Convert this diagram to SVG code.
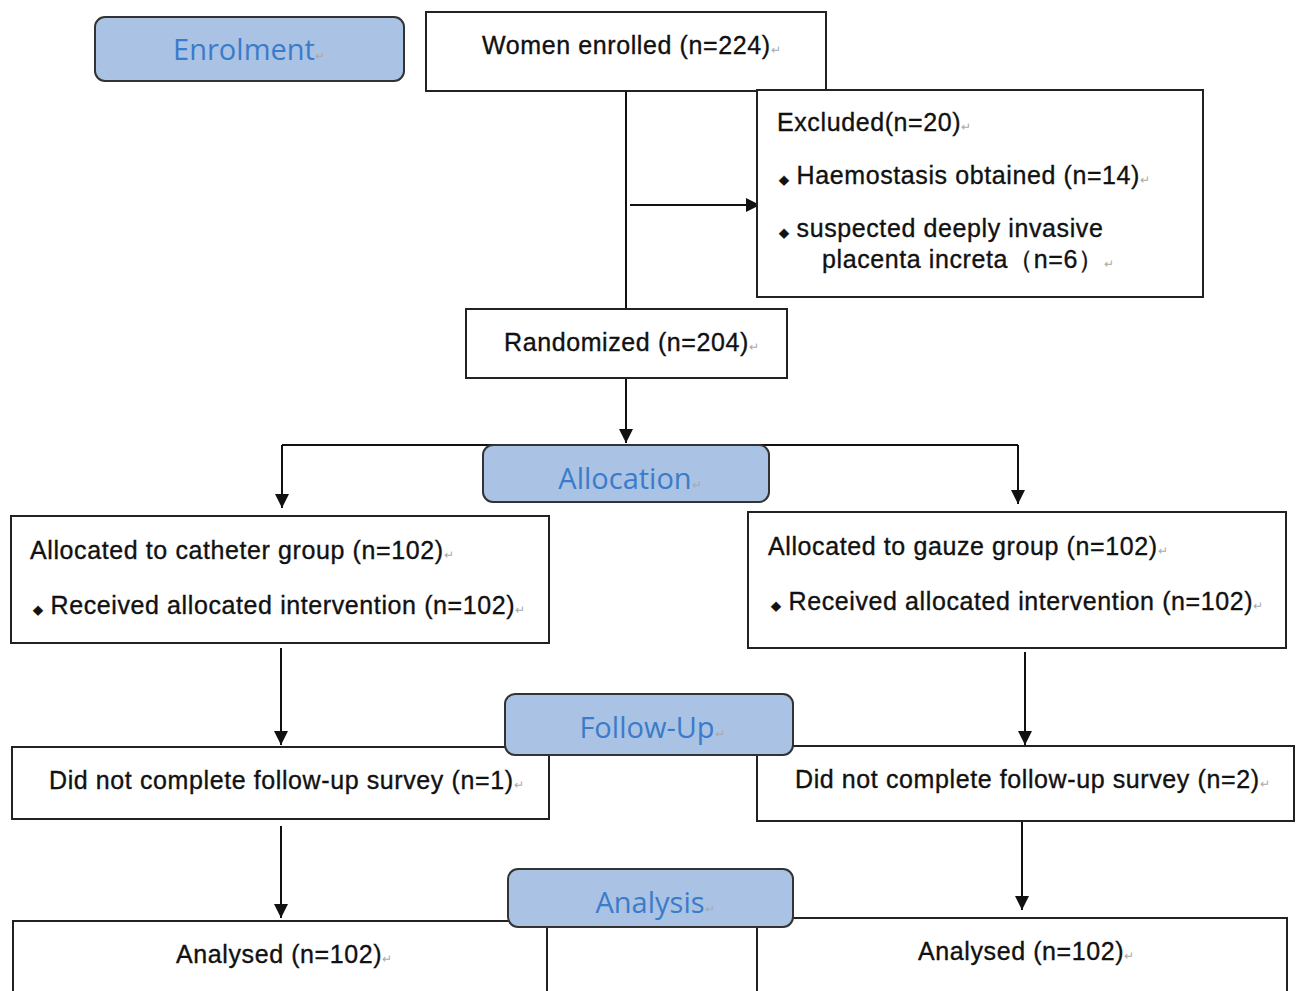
<svg xmlns="http://www.w3.org/2000/svg" width="1297" height="991" viewBox="0 0 1297 991">
<defs>
<marker id="arr" viewBox="0 0 14 14" refX="14" refY="7" markerWidth="14" markerHeight="14" markerUnits="userSpaceOnUse" orient="auto">
<path d="M0,0 L14,7 L0,14 Z" fill="#111"/>
</marker>
<style>
.box{fill:#fff;stroke:#222;stroke-width:2}
.hdr{fill:#aac2e4;stroke:#333;stroke-width:2}
.t{font-family:"Liberation Sans",Arial,sans-serif;font-size:25px;letter-spacing:0.6px;fill:#111;stroke:#111;stroke-width:0.35}
.h{font-family:"Open Sans","Liberation Sans",sans-serif;font-size:29px;fill:#3a7cc9}
.pm{font-size:12px;fill:#aaa;stroke:none;letter-spacing:0}
.b{font-size:13px;letter-spacing:0}
.ln{stroke:#111;stroke-width:2;fill:none}
</style>
</defs>
<rect width="1297" height="991" fill="#fff"/>
<g id="connectors">
<path class="ln" d="M626,91 V308"/>
<path class="ln" d="M630,205 H760" marker-end="url(#arr)"/>
<path class="ln" d="M626,378 V443" marker-end="url(#arr)"/>
<path class="ln" d="M282,445 H1018"/>
<path class="ln" d="M282,445 V508" marker-end="url(#arr)"/>
<path class="ln" d="M1018,445 V504" marker-end="url(#arr)"/>
<path class="ln" d="M281,648 V745" marker-end="url(#arr)"/>
<path class="ln" d="M1025,652 V745" marker-end="url(#arr)"/>
<path class="ln" d="M281,826 V918" marker-end="url(#arr)"/>
<path class="ln" d="M1022,818 V910" marker-end="url(#arr)"/>
</g>
<g id="enrolment">
<rect class="hdr" x="95" y="17" width="309" height="64" rx="10"/>
<text class="h" x="249" y="60" text-anchor="middle">Enrolment<tspan class="pm">↵</tspan></text>
</g>
<g id="enrolled">
<rect class="box" x="426" y="12" width="400" height="79"/>
<text class="t" x="482" y="54">Women enrolled (n=224)<tspan class="pm">↵</tspan></text>
</g>
<g id="excluded">
<rect class="box" x="757" y="90" width="446" height="207"/>
<text class="t" x="777" y="131">Excluded(n=20)<tspan class="pm">↵</tspan></text>
<text class="t" x="779" y="184"><tspan class="b">◆</tspan> Haemostasis obtained (n=14)<tspan class="pm">↵</tspan></text>
<text class="t" x="779" y="237"><tspan class="b">◆</tspan> suspected deeply invasive</text>
<text class="t" x="822" y="268">placenta increta（n=6）<tspan class="pm">↵</tspan></text>
</g>
<g id="randomized">
<rect class="box" x="466" y="309" width="321" height="69"/>
<text class="t" x="504" y="351">Randomized (n=204)<tspan class="pm">↵</tspan></text>
</g>
<g id="allocation">
<rect class="hdr" x="483" y="445" width="286" height="57" rx="10"/>
<text class="h" x="630" y="489" text-anchor="middle">Allocation<tspan class="pm">↵</tspan></text>
</g>
<g id="catheter">
<rect class="box" x="11" y="516" width="538" height="127"/>
<text class="t" x="30" y="559">Allocated to catheter group (n=102)<tspan class="pm">↵</tspan></text>
<text class="t" x="33" y="614"><tspan class="b">◆</tspan> Received allocated intervention (n=102)<tspan class="pm">↵</tspan></text>
</g>
<g id="gauze">
<rect class="box" x="748" y="512" width="538" height="136"/>
<text class="t" x="768" y="555">Allocated to gauze group (n=102)<tspan class="pm">↵</tspan></text>
<text class="t" x="771" y="610"><tspan class="b">◆</tspan> Received allocated intervention (n=102)<tspan class="pm">↵</tspan></text>
</g>
<g id="dnc-left">
<rect class="box" x="12" y="747" width="537" height="72"/>
<text class="t" x="49" y="789">Did not complete follow-up survey (n=1)<tspan class="pm">↵</tspan></text>
</g>
<g id="dnc-right">
<rect class="box" x="757" y="746" width="537" height="75"/>
<text class="t" x="795" y="788">Did not complete follow-up survey (n=2)<tspan class="pm">↵</tspan></text>
</g>
<g id="followup">
<rect class="hdr" x="505" y="694" width="288" height="61" rx="10"/>
<text class="h" x="652" y="738" text-anchor="middle">Follow-Up<tspan class="pm">↵</tspan></text>
</g>
<g id="analysed-left">
<rect class="box" x="13" y="921" width="534" height="80"/>
<text class="t" x="176" y="963">Analysed (n=102)<tspan class="pm">↵</tspan></text>
</g>
<g id="analysed-right">
<rect class="box" x="757" y="918" width="530" height="83"/>
<text class="t" x="918" y="960">Analysed (n=102)<tspan class="pm">↵</tspan></text>
</g>
<g id="analysis">
<rect class="hdr" x="508" y="869" width="285" height="58" rx="10"/>
<text class="h" x="655" y="913" text-anchor="middle">Analysis<tspan class="pm">↵</tspan></text>
</g>
</svg>
